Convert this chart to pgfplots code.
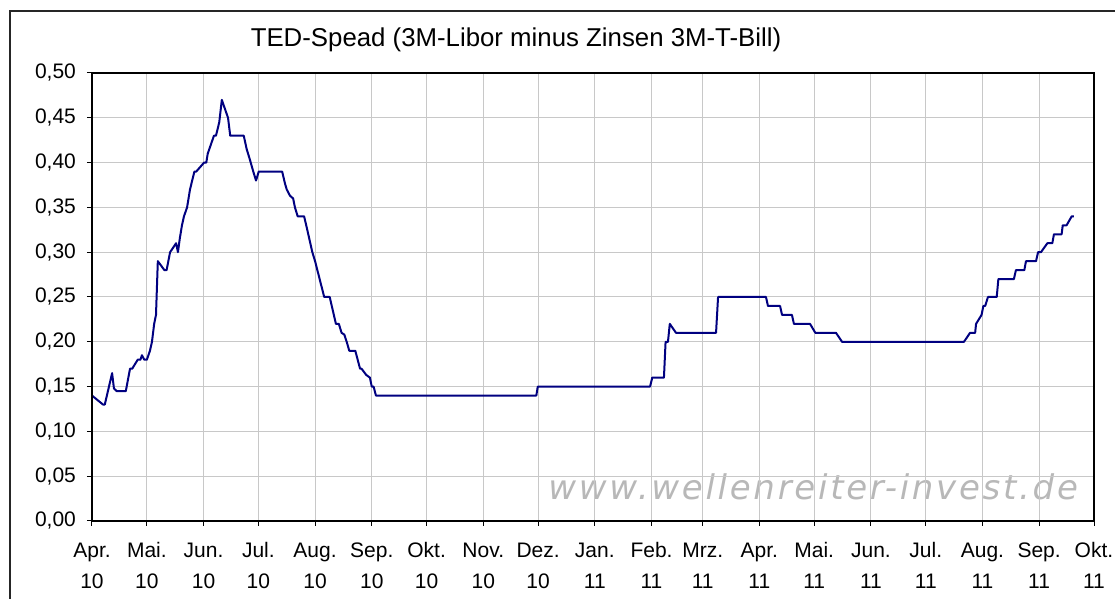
\documentclass[border=0pt]{standalone}
\usepackage{fontspec}
\setmainfont{Liberation Sans}
\newfontfamily\wmfont[LetterSpace=8]{DejaVu Sans}
\usepackage{pgfplots}
\pgfplotsset{compat=1.18}
\definecolor{navyline}{RGB}{0,0,128}
\definecolor{gridgray}{RGB}{200,200,200}
\newcommand\tl[2]{\strut#1\\\strut#2}
\begin{document}
\begin{tikzpicture}
\useasboundingbox (-46pt,-39pt) rectangle (511.5pt,260.5pt);
\draw[black!85, line width=0.6pt] (-41pt,-50pt) -- (-41pt,255pt) -- (530pt,255pt);
\node[anchor=base west, inner sep=0pt, text=black!28, font=\wmfont\itshape\fontsize{17}{19}\selectfont] at (228pt,10.5pt) {www.wellenreiter-invest.de};
\node[anchor=base, inner sep=0pt, font=\fontsize{12.9}{15}\selectfont] at (212pt,237.2pt) {TED-Spead (3M-Libor minus Zinsen 3M-T-Bill)};
\begin{axis}[
  at={(0pt,0pt)}, anchor=south west,
  width=501pt, height=224pt, scale only axis,
  xmin=0, xmax=548, ymin=0, ymax=0.5,
  xtick={0,30,61,91,122,153,183,214,244,275,306,334,365,395,426,456,487,518,548},
  xticklabels={{\tl{Apr.}{10}},{\tl{Mai.}{10}},{\tl{Jun.}{10}},{\tl{Jul.}{10}},{\tl{Aug.}{10}},{\tl{Sep.}{10}},{\tl{Okt.}{10}},{\tl{Nov.}{10}},{\tl{Dez.}{10}},{\tl{Jan.}{11}},{\tl{Feb.}{11}},{\tl{Mrz.}{11}},{\tl{Apr.}{11}},{\tl{Mai.}{11}},{\tl{Jun.}{11}},{\tl{Jul.}{11}},{\tl{Aug.}{11}},{\tl{Sep.}{11}},{\tl{Okt.}{11}}},
  ytick={0,0.05,0.1,0.15,0.2,0.25,0.3,0.35,0.4,0.45,0.5},
  yticklabels={{0,00},{0,05},{0,10},{0,15},{0,20},{0,25},{0,30},{0,35},{0,40},{0,45},{0,50}},
  grid=major, major grid style={gridgray, line width=0.5pt},
  tick align=outside, major tick length=2.5pt,
  xtick pos=bottom, ytick pos=left,
  tick style={black, line width=0.5pt},
  axis line style={black, line width=0.6pt},
  tick label style={font=\fontsize{10.5}{15.5}\selectfont},
  xticklabel style={align=center, yshift=-4.5pt, inner sep=0pt},
  yticklabel style={xshift=-2pt},
]
\addplot[navyline, line width=1pt, line join=round] coordinates {
(0,0.14) (3,0.135) (6,0.13) (7,0.13) (11,0.165) (12,0.148) (13.5,0.145) (18.5,0.145)
(20.8,0.17) (22,0.17) (25,0.18) (26.5,0.18) (27.3,0.185) (28.6,0.18) (30,0.18)
(31.7,0.19) (32.8,0.20) (34,0.22) (35,0.23) (36,0.29) (39.6,0.28) (40.8,0.28)
(42.7,0.30) (46,0.31) (47,0.30) (48,0.315) (49.2,0.33) (50.3,0.34) (52,0.35)
(53.6,0.37) (56,0.39) (57,0.39) (61.3,0.40) (62.5,0.40) (63.3,0.41) (65,0.42)
(66.7,0.43) (67.8,0.43) (69.6,0.445) (71,0.47) (74.4,0.45) (75.6,0.43) (83,0.43)
(84.6,0.415) (86.4,0.403) (88.2,0.39) (89.7,0.38) (91.2,0.39) (104,0.39)
(105.5,0.377) (106.5,0.37) (108.3,0.363) (110,0.36) (111,0.35) (112.5,0.34)
(116,0.34) (117.4,0.328) (120.5,0.30) (122,0.29) (127,0.25) (130,0.25)
(133.4,0.22) (135,0.22) (136.5,0.21) (138,0.208) (139.3,0.20) (140.7,0.19)
(144,0.19) (146.6,0.17) (147.4,0.17) (150,0.163) (152,0.16) (153,0.15) (154,0.15)
(155.3,0.14) (243,0.14) (243.8,0.15) (305.2,0.15) (306.4,0.16) (312.8,0.16)
(313.7,0.20) (315,0.20) (316,0.22) (319.4,0.21) (341.3,0.21) (342.4,0.25)
(368.6,0.25) (369.7,0.24) (376.3,0.24) (377.4,0.23) (382.8,0.23) (383.9,0.22)
(392.7,0.22) (395.6,0.21) (406.9,0.21) (410.2,0.20) (476.9,0.20) (480.2,0.21)
(483,0.21) (483.5,0.22) (486.5,0.23) (487.5,0.24) (488.5,0.24) (490,0.25)
(494.8,0.25) (495.7,0.27) (504.2,0.27) (505.3,0.28) (509.9,0.28) (510.8,0.29)
(516.3,0.29) (517.4,0.30) (519,0.30) (522.5,0.31) (525.2,0.31) (526.1,0.32)
(530.3,0.32) (530.9,0.33) (533,0.33) (535.8,0.34) (537,0.34)
};
\draw[black, line width=1pt] (rel axis cs:0,1) -- (rel axis cs:0,0) -- (rel axis cs:1,0);
\end{axis}
\end{tikzpicture}
\end{document}
